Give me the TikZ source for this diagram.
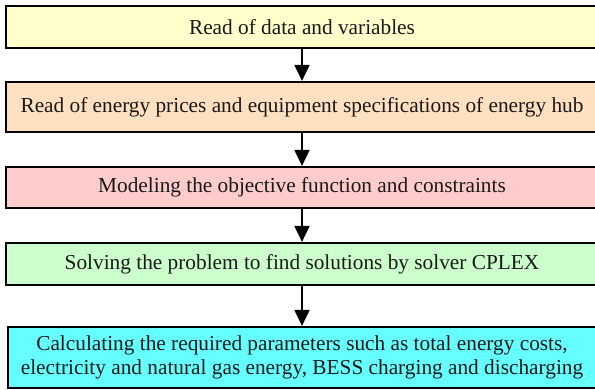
\documentclass[tikz,border=0pt]{standalone}
\usepackage{fontspec}
\setmainfont{Liberation Serif}
\usetikzlibrary{arrows.meta}
\definecolor{cA}{HTML}{FFFFCC}
\definecolor{cB}{HTML}{FFE0C0}
\definecolor{cC}{HTML}{FFCCCC}
\definecolor{cD}{HTML}{CCFFCC}
\definecolor{cE}{HTML}{66FFFF}
\tikzset{
  flowbox/.style={draw=black, line width=2.2pt, minimum width=592pt, inner sep=0pt,
    font=\fontsize{21.3}{23.5}\selectfont, align=center, text=black!90},
  flowarrow/.style={line width=2pt, -{Triangle[width=15pt,length=16pt]}}
}
\begin{document}
\begin{tikzpicture}[x=1pt,y=1pt]
\useasboundingbox (0,0) rectangle (595,-390);
\node[flowbox, fill=cA, minimum height=42pt] (b1) at (302,-27) {Read of data and variables};
\node[flowbox, fill=cB, minimum height=50pt] (b2) at (302,-107) {Read of energy prices and equipment specifications of energy hub};
\node[flowbox, fill=cC, minimum height=41pt] (b3) at (302,-187.5) {Modeling the objective function and constraints};
\node[flowbox, fill=cD, minimum height=42pt] (b4) at (302,-264) {Solving the problem to find solutions by solver CPLEX};
\node[flowbox, fill=cE, minimum height=61pt, minimum width=588pt] (b5) at (302,-357.5) {Calculating the required parameters such as total energy costs,\\electricity and natural gas energy, BESS charging and discharging};
\draw[flowarrow] (b1.south) -- (b2.north);
\draw[flowarrow] (b2.south) -- (b3.north);
\draw[flowarrow] (b3.south) -- (b4.north);
\draw[flowarrow] (b4.south) -- (b5.north);
\end{tikzpicture}
\end{document}
